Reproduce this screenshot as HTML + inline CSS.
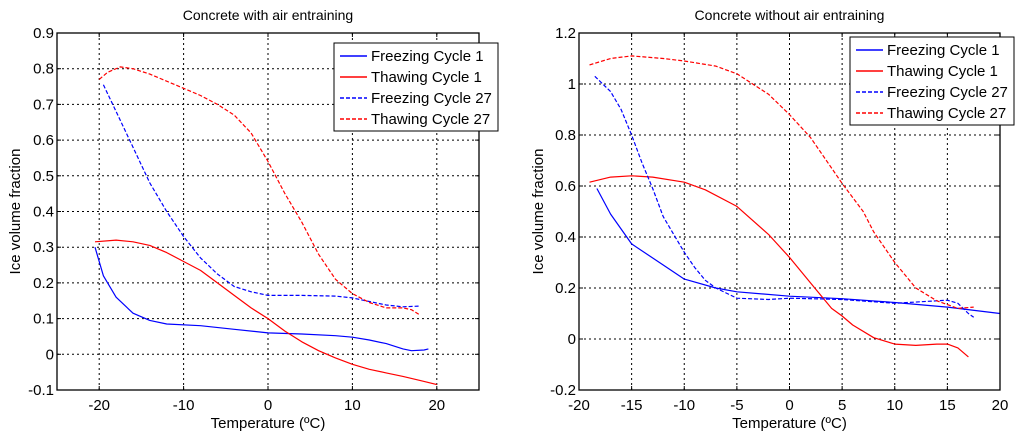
<!DOCTYPE html>
<html><head><meta charset="utf-8"><style>
body{margin:0;background:#fff;width:1024px;height:438px;overflow:hidden}
svg text{font-family:"Liberation Sans",Arial,sans-serif;fill:#000}
</style></head><body>
<svg id="svg" width="1024" height="438" viewBox="0 0 1024 438"></svg>
<script>
const seriesNames = ["Freezing Cycle 1","Thawing Cycle 1","Freezing Cycle 27","Thawing Cycle 27"];
// Left chart data
const leftF1x=[-20.5,-19.5,-18,-16,-14,-12,-8,-4,0,4,8,10,12,14,16,17,18.5,19];
const leftF1y=[0.30,0.22,0.16,0.115,0.095,0.085,0.08,0.07,0.06,0.057,0.052,0.048,0.04,0.03,0.015,0.01,0.012,0.015];
const leftT1x=[-20.5,-18,-16,-14,-12,-10,-8,-6,-4,-2,0,2,4,6,8,10,12,14,16,18,20];
const leftT1y=[0.315,0.32,0.315,0.305,0.285,0.26,0.235,0.2,0.165,0.13,0.1,0.065,0.035,0.01,-0.01,-0.028,-0.042,-0.052,-0.062,-0.073,-0.085];
const leftF27x=[-19.5,-18,-16,-14,-12,-10,-8,-6,-4,-2,0,4,8,10,12,14,16,18];
const leftF27y=[0.755,0.68,0.58,0.48,0.4,0.33,0.27,0.225,0.19,0.175,0.165,0.165,0.163,0.158,0.148,0.138,0.133,0.135];
const leftT27x=[-20,-19,-17.5,-16,-14,-12,-10,-8,-6,-4,-2,0,2,4,6,8,10,12,14,16,17,18];
const leftT27y=[0.77,0.79,0.805,0.8,0.785,0.765,0.745,0.725,0.7,0.67,0.62,0.54,0.45,0.37,0.28,0.21,0.17,0.145,0.13,0.13,0.125,0.11];
const leftXTicks=[-20,-10,0,10,20];
const leftYTicks=[-0.1,0,0.1,0.2,0.3,0.4,0.5,0.6,0.7,0.8,0.9];
// Right chart data
const rightF1x=[-18.3,-17,-15,-12,-10,-7,-5,0,5,10,15,20];
const rightF1y=[0.59,0.49,0.373,0.29,0.235,0.2,0.185,0.168,0.158,0.143,0.125,0.1];
const rightT1x=[-19,-17,-15,-13,-10,-8,-5,-2,0,2,4,5,6,8,10,12,14,15,16,17];
const rightT1y=[0.615,0.635,0.64,0.635,0.615,0.585,0.52,0.41,0.32,0.22,0.12,0.09,0.055,0.005,-0.02,-0.025,-0.02,-0.02,-0.035,-0.07];
const rightF27x=[-18.5,-17,-16,-15,-14,-13,-12,-11,-10,-9,-8,-7,-5,-2,0,5,10,14,15,16,17,17.5];
const rightF27y=[1.03,0.97,0.9,0.8,0.69,0.59,0.48,0.41,0.34,0.28,0.23,0.2,0.16,0.155,0.16,0.155,0.14,0.15,0.152,0.14,0.1,0.085];
const rightT27x=[-19,-17,-15,-12,-10,-7,-5,-2,0,2,4,5,7,8,10,12,14,16,17.5];
const rightT27y=[1.075,1.1,1.11,1.1,1.09,1.07,1.04,0.96,0.88,0.79,0.67,0.61,0.5,0.42,0.3,0.2,0.15,0.12,0.125];
const rightXTicks=[-20,-15,-10,-5,0,5,10,15,20];
const rightYTicks=[-0.2,0,0.2,0.4,0.6,0.8,1,1.2];

const NS="http://www.w3.org/2000/svg";
const svg=document.getElementById('svg');
function mk(tag,attrs,parent){const e=document.createElementNS(NS,tag);for(const k in attrs)e.setAttribute(k,attrs[k]);(parent||svg).appendChild(e);return e;}

function chart(id,cfg){
  const g=mk('g',{});
  
  
  const sx=v=>cfg.L+(v-cfg.x0)/(cfg.x1-cfg.x0)*(cfg.R-cfg.L);
  const sy=v=>cfg.B-(v-cfg.y0)/(cfg.y1-cfg.y0)*(cfg.B-cfg.T);
  mk('rect',{x:cfg.L,y:cfg.T,width:cfg.R-cfg.L,height:cfg.B-cfg.T,fill:'#fff'},g);
  cfg.xt.forEach(v=>{
    const x=sx(v);
    if(x>cfg.L+1&&x<cfg.R-1){const l=mk('line',{x1:x,x2:x,y1:cfg.T,y2:cfg.B,stroke:'#000','stroke-dasharray':'2,3','stroke-width':1},g);}
    mk('line',{x1:x,x2:x,y1:cfg.B,y2:cfg.B-4,stroke:'#000'},g);
    mk('line',{x1:x,x2:x,y1:cfg.T,y2:cfg.T+4,stroke:'#000'},g);
    const t=mk('text',{x:x,y:cfg.B+20,'text-anchor':'middle','font-size':15},g);t.textContent=v;
    
  });
  cfg.yt.forEach(v=>{
    const y=sy(v);
    if(y>cfg.T+1&&y<cfg.B-1){const l=mk('line',{x1:cfg.L,x2:cfg.R,y1:y,y2:y,stroke:'#000','stroke-dasharray':'2,3','stroke-width':1},g);}
    mk('line',{x1:cfg.L,x2:cfg.L+4,y1:y,y2:y,stroke:'#000'},g);
    mk('line',{x1:cfg.R,x2:cfg.R-4,y1:y,y2:y,stroke:'#000'},g);
    const t=mk('text',{x:cfg.L-3,y:y+5,'text-anchor':'end','font-size':15},g);t.textContent=String(Math.round(v*10)/10);
    
  });
  const cols=['#0000ff','#ff0000','#0000ff','#ff0000'];
  const dash=['','','4,2','4,2'];
  cfg.series.forEach((s,i)=>{
    const d=s[0].map((x,j)=>(j?'L':'M')+sx(x).toFixed(1)+','+sy(s[1][j]).toFixed(1)).join(' ');
    const p=mk('path',{d:d,fill:'none',stroke:cols[i],'stroke-width':1.2,'stroke-dasharray':dash[i],'stroke-linejoin':'round'},g);
    
    
  });
  mk('rect',{x:cfg.L,y:cfg.T,width:cfg.R-cfg.L,height:cfg.B-cfg.T,fill:'none',stroke:'#000','stroke-width':1.3},g);
  const tt=mk('text',{x:(cfg.L+cfg.R)/2,y:20,'text-anchor':'middle','font-size':14},g);tt.textContent=cfg.title;
  
  const xl=mk('text',{x:(cfg.L+cfg.R)/2,y:428,'text-anchor':'middle','font-size':15},g);xl.textContent='Temperature (ºC)';
  
  const yl=mk('text',{x:0,y:0,'text-anchor':'middle','font-size':15,transform:`translate(${cfg.ylx},${(cfg.T+cfg.B)/2}) rotate(-90)`},g);yl.textContent='Ice volume fraction';
  
  const lg=mk('g',{},g);
  
  const [lx,ly,lw,lh]=cfg.leg;
  mk('rect',{x:lx,y:ly,width:lw,height:lh,fill:'#fff',stroke:'#000','stroke-width':1},lg);
  seriesNames.forEach((n,i)=>{
    const y=ly+13+i*21;
    mk('line',{x1:lx+6,x2:lx+33,y1:y,y2:y,stroke:cols[i],'stroke-width':1.5,'stroke-dasharray':dash[i]},lg);
    const t=mk('text',{x:lx+37,y:y+5,'font-size':15},lg);t.textContent=n;
    
  });
}
chart('left-chart',{L:57,R:479,T:33,B:390,x0:-25,x1:25,y0:-0.1,y1:0.9,xt:leftXTicks,yt:leftYTicks,title:'Concrete with air entraining',ylx:20,leg:[334,43,164,88],
  series:[[leftF1x,leftF1y],[leftT1x,leftT1y],[leftF27x,leftF27y],[leftT27x,leftT27y]]});
chart('right-chart',{L:579,R:1000,T:33,B:390,x0:-20,x1:20,y0:-0.2,y1:1.2,xt:rightXTicks,yt:rightYTicks,title:'Concrete without air entraining',ylx:543,leg:[850,37,164,88],
  series:[[rightF1x,rightF1y],[rightT1x,rightT1y],[rightF27x,rightF27y],[rightT27x,rightT27y]]});
</script>
</body></html>
